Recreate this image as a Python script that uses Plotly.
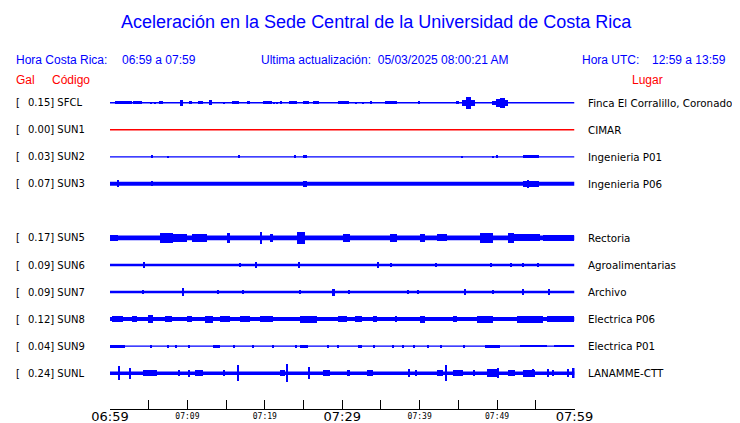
import plotly.graph_objects as go

# ---------------- data ----------------
stations = ["SFCL", "SUN1", "SUN2", "SUN3", "SUN5", "SUN6", "SUN7", "SUN8", "SUN9", "SUNL"]
peak_gal = ["0.15", "0.00", "0.03", "0.07", "0.17", "0.09", "0.09", "0.12", "0.04", "0.24"]
places = ["Finca El Corralillo, Coronado", "CIMAR", "Ingenieria P01", "Ingenieria P06",
          "Rectoria", "Agroalimentarias", "Archivo", "Electrica P06", "Electrica P01", "LANAMME-CTT"]
row_index = [0, 1, 2, 3, 5, 6, 7, 8, 9, 10]          # SUN4 slot is empty
background_level = [0.7, 0.65, 0.6, 2.0, 2.4, 1.3, 1.3, 2.0, 0.65, 1.7]   # relative amplitude

# bursts: (start minute after 06:59, duration in minutes, relative half-amplitude)
sfcl_bursts = [(0.65, 2.2, 1.5), (2.97, 1.17, 1.5), (5.17, 0.2, 1), (5.69, 0.2, 1), (6.34, 0.52, 1.5),
               (9.05, 0.4, 3), (10.22, 0.4, 1.5), (11.38, 0.65, 1.5), (12.8, 0.4, 2.5), (14.61, 0.15, 1),
               (15.78, 0.9, 1.5), (17.72, 0.4, 1.5), (19.78, 1.16, 1.5), (21.08, 0.15, 1), (21.47, 0.15, 1),
               (21.98, 0.26, 1.5), (23.15, 1.03, 1.5), (24.96, 0.78, 1.5), (26.25, 0.78, 1.5),
               (29.48, 1.42, 1.5), (31.68, 0.15, 1), (32.59, 0.15, 1), (33.62, 0.15, 0.8),
               (35.56, 1.55, 1.5), (39.83, 0.15, 0.8), (44.74, 0.4, 1.5), (45.52, 0.52, 3),
               (46.04, 0.65, 6), (46.68, 0.52, 3), (49.4, 0.52, 2), (49.91, 0.52, 4), (50.43, 0.65, 5),
               (51.08, 0.39, 3)]
sun1_bursts = []
sun2_bursts = [(5.3, 0.2, 1.5), (7.37, 0.15, 1), (16.55, 0.2, 1.5), (23.79, 0.15, 1.5), (24.96, 0.52, 1.5),
               (45.39, 0.15, 1), (49.4, 0.15, 1), (49.91, 0.2, 1.5), (53.41, 1.94, 1.5)]
sun3_bursts = [(1.03, 0.15, 3.5), (5.3, 0.15, 2.5), (24.96, 0.52, 3), (53.41, 1.94, 3), (53.93, 0.2, 4)]
sun5_bursts = [(0.0, 1.03, 3), (6.47, 1.68, 5), (8.15, 1.81, 4), (10.6, 1.94, 4.3), (15.13, 0.4, 5),
               (19.4, 0.26, 6), (20.69, 0.4, 4), (24.18, 1.03, 6), (30.13, 0.9, 4), (36.21, 0.9, 4),
               (40.09, 0.65, 4), (42.29, 1.29, 3.5), (47.85, 1.68, 5), (51.47, 0.65, 5),
               (52.11, 3.49, 3.5), (55.99, 4.0, 3)]
sun6_bursts = [(4.27, 0.15, 3.3), (16.68, 0.15, 2), (18.75, 0.15, 3), (24.31, 0.15, 3), (34.53, 0.15, 3),
               (36.21, 0.15, 2), (42.03, 0.15, 2), (49.14, 0.15, 2), (51.73, 0.15, 2), (53.28, 0.15, 2),
               (55.22, 0.15, 2)]
sun7_bursts = [(4.14, 0.15, 2), (9.31, 0.3, 4), (13.84, 0.15, 2), (17.07, 0.15, 2), (24.44, 0.15, 2),
               (28.71, 0.3, 3.5), (30.78, 0.15, 2), (38.41, 0.15, 2), (39.7, 0.15, 2), (45.78, 0.2, 3),
               (49.4, 0.15, 2), (53.28, 0.15, 3), (56.64, 0.15, 3)]
sun8_bursts = [(0.26, 1.42, 3), (2.84, 0.65, 3), (4.91, 0.65, 4), (7.11, 0.9, 3), (9.96, 0.65, 3),
               (12.28, 1.03, 3.5), (14.22, 1.29, 3), (16.81, 1.29, 3), (19.4, 1.68, 3), (24.57, 2.2, 3.5),
               (29.48, 1.16, 3), (31.68, 0.9, 3), (34.01, 0.52, 3), (36.85, 0.2, 3), (40.09, 0.65, 3.5),
               (44.35, 0.52, 3), (47.46, 2.07, 3.5), (52.63, 3.36, 3.5), (56.51, 3.45, 3)]
sun9_bursts = [(0.0, 1.94, 1.5), (5.17, 0.2, 1.5), (7.37, 0.2, 1.5), (8.41, 0.2, 1.5), (10.09, 0.2, 1.5),
               (13.32, 0.9, 1.5), (15.91, 0.2, 1.5), (18.36, 0.2, 1.5), (20.95, 0.2, 1.5), (23.92, 0.2, 1.5),
               (24.57, 1.03, 1.5), (28.06, 0.2, 1.5), (29.35, 0.2, 1.5), (32.07, 0.52, 1.5), (34.01, 0.2, 1.5),
               (36.47, 0.2, 1.5), (37.76, 0.2, 1.5), (39.18, 0.2, 1.5), (40.99, 0.2, 1.5), (42.67, 0.2, 1.5),
               (45.65, 0.2, 1.5), (48.49, 1.94, 1.5), (53.02, 3.49, 1.3), (57.29, 2.59, 1.0)]
sunl_bursts = [(1.16, 0.15, 7), (2.46, 0.15, 5.5), (4.27, 1.81, 3), (8.79, 0.2, 3), (10.09, 0.2, 3.5),
               (10.99, 1.03, 3), (14.61, 0.2, 3), (16.42, 0.15, 8), (21.98, 0.65, 3), (22.76, 0.15, 9),
               (25.6, 0.2, 6), (27.54, 0.9, 3), (30.65, 0.4, 3), (33.23, 0.78, 3), (38.54, 0.15, 4),
               (39.44, 0.15, 3), (42.29, 0.78, 3), (43.32, 0.15, 8), (44.35, 1.29, 3), (46.94, 0.15, 3),
               (48.75, 1.29, 4), (50.04, 0.15, 5), (51.47, 0.9, 3), (53.41, 1.55, 3.5), (54.57, 0.15, 4),
               (56.51, 0.15, 4), (57.16, 0.15, 3), (59.1, 0.15, 4), (59.74, 0.26, 5)]
all_bursts = [sfcl_bursts, sun1_bursts, sun2_bursts, sun3_bursts, sun5_bursts, sun6_bursts,
              sun7_bursts, sun8_bursts, sun9_bursts, sunl_bursts]

tick_minutes = [0, 5, 10, 15, 20, 25, 30, 35, 40, 45, 50, 55, 60]
major_tick_minutes = [0, 30, 60]
major_tick_labels = ["06:59", "07:29", "07:59"]
minor_label_minutes = [10, 20, 40, 50]
minor_tick_labels = ["07:09", "07:19", "07:39", "07:49"]

title_text = "Aceleración en la Sede Central de la Universidad de Costa Rica"
local_range = "06:59 a 07:59"
utc_range = "12:59 a 13:59"
updated = "05/03/2025 08:00:21 AM"

# ---------------- figure ----------------
OFF = 8                      # page (body) margin offset of the figure inside the window
W, H = 740 - OFF, 423 - OFF
BLUE = "#0000ff"
RED = "#ff0000"
ROW_PX = 27.05
FIRST_PX = 102.7
AXIS_PX = 409
AMP = 1.0 / ROW_PX  # relative amplitude unit -> row units

fig = go.Figure()

for name, lvl, row, bursts in zip(stations, background_level, row_index, all_bursts):
    col = RED if name == "SUN1" else BLUE
    fig.add_trace(go.Scatter(x=[0, 60], y=[row, row], mode="lines",
                             line=dict(color=col, width=max(1.0, 2 * lvl)),
                             hoverinfo="skip", showlegend=False))
    if bursts:
        xs = [s + d / 2 for s, d, a in bursts]
        ws = [d for s, d, a in bursts]
        bases = [row - a * AMP for s, d, a in bursts]
        hs = [2 * a * AMP for s, d, a in bursts]
        fig.add_trace(go.Bar(x=xs, y=hs, base=bases, width=ws,
                             marker=dict(color=col, line=dict(width=0)),
                             hoverinfo="skip", showlegend=False))

y_top = (OFF - FIRST_PX) / ROW_PX
y_bot = (AXIS_PX - FIRST_PX) / ROW_PX
x_dom = [(110 - OFF) / W, (574.5 - OFF) / W]

fig.update_layout(
    width=W, height=H, autosize=False,
    margin=dict(l=0, r=0, t=0, b=0, pad=0, autoexpand=False),
    paper_bgcolor="white", plot_bgcolor="white",
    barmode="overlay", bargap=0,
    xaxis=dict(domain=x_dom, range=[0, 60], showgrid=False, zeroline=False,
               automargin=False,
               showline=True, linecolor="black", linewidth=1,
               ticks="inside", ticklen=9, tickwidth=1, tickcolor="black",
               tickvals=tick_minutes, ticklabelstandoff=-5,
               ticktext=[major_tick_labels[major_tick_minutes.index(m)] if m in major_tick_minutes else ""
                         for m in tick_minutes],
               tickfont=dict(family="DejaVu Sans", size=13, color="black")),
    xaxis2=dict(domain=x_dom, range=[0, 60], overlaying="x", anchor="y", side="bottom",
                automargin=False, ticklabelstandoff=1,
                showgrid=False, zeroline=False, showline=False, ticks="",
                tickvals=minor_label_minutes, ticktext=minor_tick_labels,
                tickfont=dict(family="DejaVu Sans Mono", size=8, color="black")),
    yaxis=dict(domain=[(H - (AXIS_PX - OFF)) / H, 1], range=[y_bot, y_top], visible=False,
               automargin=False),
)
# invisible trace to activate xaxis2
fig.add_trace(go.Scatter(x=[0], y=[y_top], xaxis="x2", mode="markers",
                         marker=dict(opacity=0), hoverinfo="skip", showlegend=False))


def txt(xp, yp, s, size, color, family, anchor="left"):
    fig.add_annotation(x=(xp - OFF) / W, y=1 - (yp - OFF) / H, xref="paper", yref="paper", text=s,
                       showarrow=False, xanchor=anchor, yanchor="middle",
                       font=dict(size=size, color=color, family=family))


SANS = "Liberation Sans, Arial, sans-serif"
DJ = "DejaVu Sans"
txt(376, 22, title_text, 18, BLUE, SANS, "center")
txt(14, 60, "Hora Costa Rica:", 12, BLUE, SANS)
txt(120, 60, local_range, 12, BLUE, SANS)
txt(259, 60, "Ultima actualización:  " + updated, 12, BLUE, SANS)
txt(580, 60, "Hora UTC:", 12, BLUE, SANS)
txt(650, 60, utc_range, 12, BLUE, SANS)
txt(14, 80, "Gal", 12, RED, SANS)
txt(50, 80, "Código", 12, RED, SANS)
txt(630, 80, "Lugar", 12, RED, SANS)

for name, g, place, row in zip(stations, peak_gal, places, row_index):
    ypx = FIRST_PX + row * ROW_PX
    txt(14, ypx, "[", 10, "black", DJ)
    txt(26, ypx, g + "] " + name, 10, "black", DJ)
    txt(586, ypx, place, 10.3, "black", DJ)

fig.write_html("out.html")
